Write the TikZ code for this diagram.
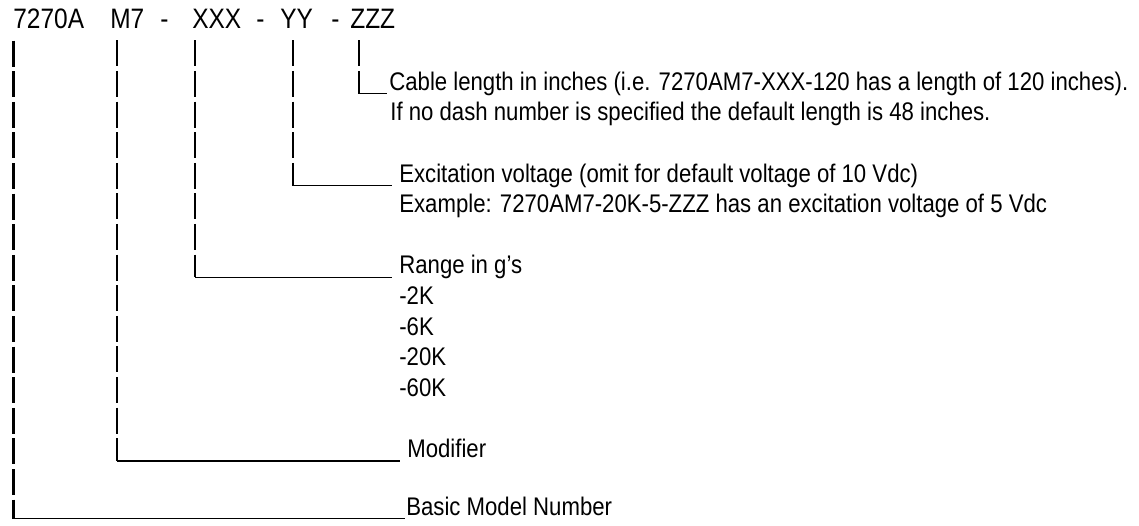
\documentclass[tikz,border=0pt]{standalone}
\usepackage{fontspec}
\setmainfont[FakeStretch=0.87]{Liberation Sans}
\tikzset{
  part/.style={anchor=base west,inner xsep=0pt,inner ysep=0.22cm,font=\fontsize{16}{19}\selectfont},
  desc/.style={anchor=base west,inner sep=0pt,font=\fontsize{14.5}{17}\selectfont},
  bar/.style={line width=1.3pt,dash pattern=on 0.52cm off 0.092cm},
  uline/.style={line width=0.85pt}
}

\begin{document}
\begin{tikzpicture}
  \useasboundingbox (0,0) rectangle (22.78,10.5);
  % model code
  \foreach \x/\t/\n in {0.26/7270A/base,2.2/M7/mod,3.2/-/sa,3.84/XXX/rng,
                        5.12/-/sb,5.6/YY/volt,6.62/-/sc,7.0/ZZZ/cab}
    \node[part] (\n) at (\x,9.92) {\t};
  % descriptions
  \node[desc,inner xsep=0.04cm] (lcab) at (7.74,8.696) {Cable length in inches (i.e. 7270AM7-XXX-120 has a length of 120 inches).};
  \node[desc] (lcab2) at (7.80,8.084) {If no dash number is specified the default length is 48 inches.};
  \node[desc,inner xsep=0.14cm] (lvolt) at (7.84,6.86) {Excitation voltage (omit for default voltage of 10 Vdc)};
  \node[desc] (lvolt2) at (7.98,6.248) {Example: 7270AM7-20K-5-ZZZ has an excitation voltage of 5 Vdc};
  \node[desc,inner xsep=0.14cm] (lrng) at (7.84,5.024) {Range in g’s};
  \foreach \v [count=\i] in {-2K,-6K,-20K,-60K}
    \node[desc] (lrng\i) at (7.98,5.024-0.612*\i) {\v};
  \node[desc,inner xsep=0.14cm] (lmod) at (8.0,1.352) {Modifier};
  \node[desc,inner xsep=0.02cm] (lbase) at (8.10,0.2) {Basic Model Number};
  % leaders
  \coordinate (ccab) at (7.18,8.626);
  \coordinate (cvolt) at (5.86,6.79);
  \coordinate (crng) at (3.9,4.954);
  \coordinate (cmod) at (2.34,1.282);
  \coordinate (cbase) at (0.27,0.13);
  \foreach \n in {cab,volt,rng,mod,base}{
    \draw[bar] (\n.south -| c\n) -- (c\n);
    \draw[uline] (c\n) -- (c\n -| l\n.west);
  }
\end{tikzpicture}
\end{document}
